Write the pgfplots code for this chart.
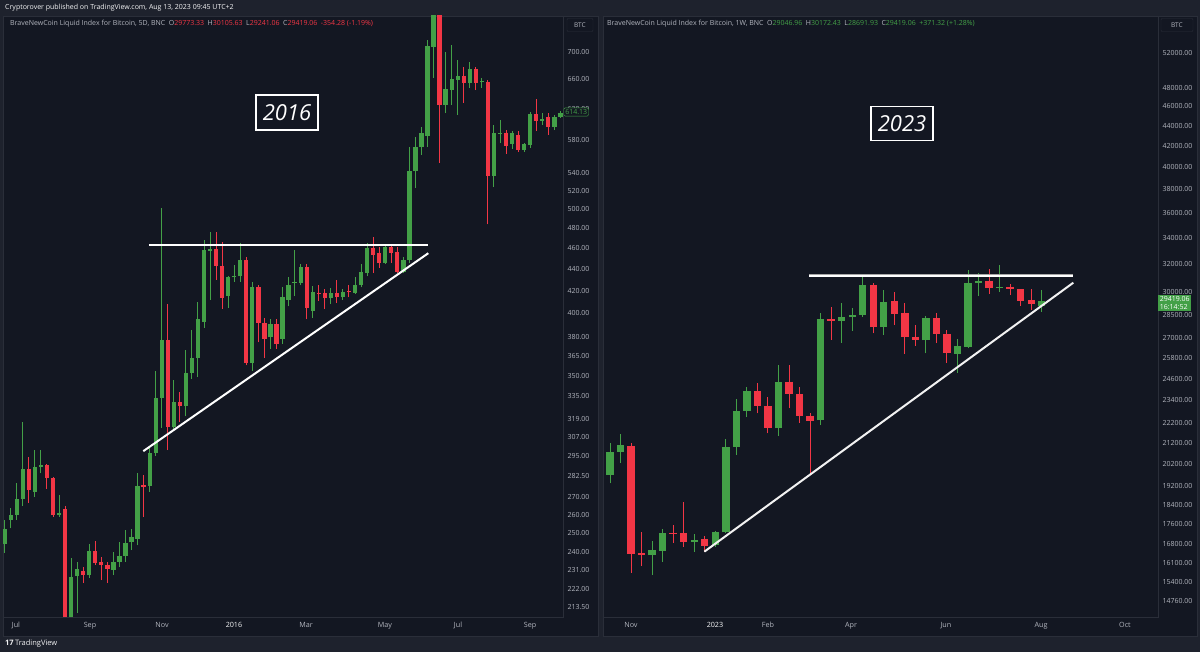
\documentclass[border=0pt]{standalone}
\usepackage{fontspec}
\setmainfont{Open Sans}
\usepackage{pgfplots}
\usepackage{pgfplotstable}
\pgfplotsset{compat=1.18}

\definecolor{outerbg}{HTML}{1E222D}
\definecolor{chartbg}{HTML}{131722}
\definecolor{gridc}{HTML}{2A2E39}
\definecolor{txt}{HTML}{B2B5BE}
\definecolor{cgreen}{HTML}{43A047}
\definecolor{cred}{HTML}{F23645}

% 5D candles, 2015-2016 (i = candle index)
\pgfplotstableread{
i o h l c up
1 244 257 239.5 252 1
2 257 263.6 252.5 260 1
3 260 278 257 269 1
4 269 317 265 287 1
5 287 294 266.6 274 0
6 273 298.5 270 288 1
7 288 298.5 284 289 1
8 289 290 275 281 0
9 281 282 258.6 260 0
10 260 271 258.6 261 1
11 263 265 200 205 0
12 205 237 200 227.5 1
13 228 235 210.7 231.4 1
14 230.4 232.4 224.6 228.5 0
15 228.5 244 227 240.5 1
16 240.5 246 233.4 234.4 0
17 235 237.5 226 233.4 0
18 233.4 235 224.6 231.4 0
19 231 240 228.5 235 1
20 235 245 232.4 238 1
21 238 251.4 235 244.6 1
22 245 252 241 248 1
23 246.7 284 243.5 276.5 1
24 277 283 258.6 276 0
25 276.5 301 273 297 1
26 297 354 295 334 1
27 334 501 313 378 1
28 378 408 298.5 314 0
29 314 347 312 331 1
30 331 338 317 328 0
31 328 370 321 352 1
32 352 386 348 363.5 1
33 363.5 410 349 395 1
34 393 468 388 458 1
35 457 476 412 459 1
36 459 476 430 443 0
37 443 466 404 413 0
38 415 433 405 432 1
39 432 444 428 433 1
40 433 465 428 448 1
41 448 451 358 360 0
42 360 428 354 423 1
43 423 425 376 392 0
44 392 396 364 379 0
45 380 395 371 391 1
46 391 395 371 375 0
47 379 423 375 414 1
48 412 432 406 425 1
49 427 458 415 428 1
50 427 445 425 442 1
51 442 445 395 405 0
52 402 424 396 419 1
53 418 425 411 417.5 0
54 417.5 421 404 413 0
55 413 422 408 418 1
56 418 430 409 414 0
57 414 421 412 419 1
58 420 425 414 419 0
59 418 432 417 425 1
60 425 445 423 437 1
61 436 465 433 460 1
62 460 471 436 453 0
63 455 461 441 446 0
64 446 463 445 461 1
65 461 463 446 455 0
66 456 461 436 437 0
67 437 451 436 448 1
68 448 571 446 542 1
69 542 584 523 571 1
70 571 596 562 589 1
71 585 718 571 709 1
72 708 790 662 765 1
73 765 785 552 625 0
74 625 700 614 647 1
75 645 711 625 661 1
76 659 688 612 665 1
77 665 678 628 655 0
78 655 685 648 675 1
79 675 678 645 655 0
80 656 662 648 658 1
81 656 659 484 537 0
82 537 599 524 589 1
83 588 605 576 589 1
84 589 592 563 572 0
85 575 591 569 589 1
86 586 591 565 568 0
87 568 576 565 575 1
88 574 616 570 613 1
89 613 633 591 604 0
90 604 614 599 607 1
91 609 614 586 596 0
92 596 612 592 609 1
93 609 617 608 614.13 1
}\leftdata

% 1W candles, 2022-2023 (i = week index)
\pgfplotstableread{
i o h l c up
0 19300 19900 18900 19700 1
1 19711 21229 19340 20795 1
2 20795 21658 20261 21119 1
3 21072 21214 15746 16437 0
4 16474 17300 15990 16400 0
5 16400 16936 15662 16588 1
6 16562 17408 16146 17262 1
7 17262 17571 16869 17212 0
8 17252 18511 16713 16883 0
9 16897 17212 16526 16978 1
10 17005 17134 16526 16753 0
11 16780 17326 16713 17278 1
12 17278 21398 17240 21034 1
13 21034 23473 20639 22849 1
14 22849 24148 22537 23911 1
15 23911 24373 22714 23099 0
16 23099 23598 21693 21942 0
17 21942 25380 21560 24426 1
18 24426 25380 22977 23728 0
19 23728 24148 22225 22590 0
20 22590 22745 19785 22330 0
21 22365 28584 22110 28196 1
22 28196 29022 26883 28103 0
23 28103 29291 26719 28362 1
24 28324 28917 27446 28474 1
25 28474 31090 28362 30503 1
26 30503 30622 27300 27716 0
27 27716 30155 27196 29358 1
28 29425 30040 27825 28538 0
29 28584 29250 26031 27050 0
30 27088 27825 26516 26883 0
31 26860 28400 26073 28256 1
32 28256 28584 26682 27258 0
33 27258 27508 25516 26073 0
34 26031 26925 24939 26516 1
35 26474 31574 26376 30622 1
36 30622 31380 29744 30810 1
37 30790 31626 29884 30316 0
38 30316 31939 30040 30389 1
39 30389 30555 29813 30207 0
40 30207 30228 29068 29425 0
41 29474 30207 28803 29182 0
42 29046.96 30172.43 28691.93 29419.06 1
}\rightdata

\newcommand\drawcandles[2]{%
  \pgfplotstablegetrowsof{#1}%
  \pgfmathtruncatemacro\candlerows{\pgfplotsretval-1}%
  \pgfplotsforeachungrouped \candlek in {0,...,\candlerows}{%
    \pgfplotstablegetelem{\candlek}{i}\of#1\let\candlex\pgfplotsretval
    \pgfplotstablegetelem{\candlek}{o}\of#1\let\candleo\pgfplotsretval
    \pgfplotstablegetelem{\candlek}{h}\of#1\let\candleh\pgfplotsretval
    \pgfplotstablegetelem{\candlek}{l}\of#1\let\candlel\pgfplotsretval
    \pgfplotstablegetelem{\candlek}{c}\of#1\let\candlec\pgfplotsretval
    \pgfplotstablegetelem{\candlek}{up}\of#1%
    \ifnum\pgfplotsretval=1 \def\candlecol{cgreen}\else\def\candlecol{cred}\fi
    \edef\candlecmd{%
      \noexpand\addplot[draw=\candlecol, line width=1pt, forget plot] coordinates {(\candlex,\candlel) (\candlex,\candleh)};%
      \noexpand\addplot[draw=\candlecol, line width=#2, forget plot] coordinates {(\candlex,\candleo) (\candlex,\candlec)};%
    }%
    \candlecmd
  }%
}

\begin{document}
\begin{tikzpicture}[x=1pt,y=1pt]
\fill[outerbg] (0,0) rectangle (1200,652);
\filldraw[fill=chartbg, draw=gridc, line width=0.8pt] (3,16) rectangle (598,636);
\filldraw[fill=chartbg, draw=gridc, line width=0.8pt] (603,16) rectangle (1197,636);

% ---------------- left panel ----------------
\begin{axis}[
  scale only axis, anchor=south west, at={(3pt,35pt)}, width=560pt, height=601pt,
  ymode=log,
  axis background/.style={fill=chartbg},
  axis line style={draw=gridc, line width=0.8pt},
  tick style={draw=none}, major tick length=0pt, minor tick num=0,
  yticklabel pos=right,
  yticklabel style={font=\fontsize{7}{8}\selectfont, text=txt, anchor=west, xshift=1pt},
  xticklabel style={font=\fontsize{7.2}{8}\selectfont, text=txt, yshift=-2pt},
  xmin=0.72, xmax=93.43, ymin=208.9, ymax=756,
  xtick={2.87,15.12,27.04,38.96,50.88,63.96,76.05,87.97},
  xticklabels={Jul,Sep,Nov,\textcolor{white!90!txt}{2016},Mar,May,Jul,Sep},
  ytick={213.5,222,231,240,250,260,270,282.5,295,307,319,335,350,365,380,400,420,440,460,480,500,520,540,580,620,660,700},
  yticklabels={213.50,222.00,231.00,240.00,250.00,260.00,270.00,282.50,295.00,307.00,319.00,335.00,350.00,365.00,380.00,400.00,420.00,440.00,460.00,480.00,500.00,520.00,540.00,580.00,620.00,660.00,700.00},
]
\drawcandles{\leftdata}{4.3pt}
\addplot[white, line width=2pt, forget plot] coordinates {(24.89,463) (71.13,463)};
\addplot[white, line width=2pt, forget plot] coordinates {(23.95,297.9) (71.13,455)};
\end{axis}

% ---------------- right panel ----------------
\begin{axis}[
  scale only axis, anchor=south west, at={(603pt,35pt)}, width=555pt, height=601pt,
  ymode=log,
  axis background/.style={fill=chartbg},
  axis line style={draw=gridc, line width=0.8pt},
  tick style={draw=none}, major tick length=0pt, minor tick num=0,
  yticklabel pos=right,
  yticklabel style={font=\fontsize{7}{8}\selectfont, text=txt, anchor=west, xshift=1pt},
  xticklabel style={font=\fontsize{7.2}{8}\selectfont, text=txt, yshift=-2pt},
  xmin=0.335, xmax=53.04, ymin=14223, ymax=56618,
  xtick={2.99,10.97,16.0,23.89,32.9,41.93,49.9},
  xticklabels={Nov,\textcolor{white!90!txt}{2023},Feb,Apr,Jun,Aug,Oct},
  ytick={14160,14760,15400,16100,16800,17600,18400,19200,20200,21200,22200,23400,24600,25800,27000,28500,30000,32000,34000,36000,38000,40000,42000,44000,46000,48000,52000},
  yticklabels={14160.00,14760.00,15400.00,16100.00,16800.00,17600.00,18400.00,19200.00,20200.00,21200.00,22200.00,23400.00,24600.00,25800.00,27000.00,28500.00,30000.00,32000.00,34000.00,36000.00,38000.00,40000.00,42000.00,44000.00,46000.00,48000.00,52000.00},
]
\drawcandles{\rightdata}{7.4pt}
\addplot[gray!70, line width=3pt, forget plot] coordinates {(19.90,31143) (45.0,31143)};
\addplot[white, line width=1.6pt, forget plot] coordinates {(19.90,31143) (45.0,31143)};
\addplot[white!90!gray, line width=2pt, forget plot] coordinates {(9.96,16526) (45.0,30666)};
\end{axis}

% ---------------- texts ----------------
\node[anchor=west, text=white!85!txt, font=\fontsize{7}{8}\selectfont, inner sep=0] at (5,644) {Cryptorover published on TradingView.com, Aug 13, 2023 09:45 UTC+2};
\node[anchor=west, text=txt, font=\fontsize{7}{8}\selectfont, inner sep=0] at (10,628)
  {BraveNewCoin Liquid Index for Bitcoin, 5D, BNC\enspace O\textcolor{cred}{29773.33}\enspace H\textcolor{cred}{30105.63}\enspace L\textcolor{cred}{29241.06}\enspace C\textcolor{cred}{29419.06}\enspace\textcolor{cred}{-354.28 (-1.19\%)}};
\node[anchor=west, text=txt, font=\fontsize{7}{8}\selectfont, inner sep=0] at (607,628)
  {BraveNewCoin Liquid Index for Bitcoin, 1W, BNC\enspace O\textcolor{cgreen}{29046.96}\enspace H\textcolor{cgreen}{30172.43}\enspace L\textcolor{cgreen}{28691.93}\enspace C\textcolor{cgreen}{29419.06}\enspace\textcolor{cgreen}{+371.32 (+1.28\%)}};

% BTC boxes
\node[draw=gridc, fill=chartbg, text=txt, font=\fontsize{6.5}{7}\selectfont, minimum width=26pt, minimum height=13pt, inner sep=1pt, rounded corners=1pt] at (580,627) {BTC};
\node[draw=gridc, fill=chartbg, text=txt, font=\fontsize{6.5}{7}\selectfont, minimum width=32pt, minimum height=13pt, inner sep=1pt, rounded corners=1pt] at (1177,627) {BTC};

% year boxes
\node[draw=white, line width=1.5pt, fill=chartbg, text=white, font=\fontsize{22}{24}\selectfont\itshape, minimum width=62pt, minimum height=35pt, inner sep=2pt] at (287,539.5) {2016};
\node[draw=white, line width=1.5pt, fill=chartbg, text=white, font=\fontsize{22}{24}\selectfont\itshape, minimum width=62pt, minimum height=34pt, inner sep=2pt] at (902,528.5) {2023};

% price labels
\node[anchor=west, draw=cgreen, fill=chartbg, text=cgreen, font=\fontsize{7}{8}\selectfont, inner sep=1.6pt, rounded corners=1.5pt] at (563.5,540) {614.13};
\node[anchor=west, fill=cgreen, text=white, font=\fontsize{7}{8}\selectfont, inner sep=1.6pt, align=left] at (1158,349) {29419.06\\16:14:52};

% footer
\node[anchor=west, text=white!80!txt, font=\fontsize{7.5}{8}\selectfont, inner sep=0] at (5,8) {{\bfseries 17}\,TradingView};
\end{tikzpicture}
\end{document}
